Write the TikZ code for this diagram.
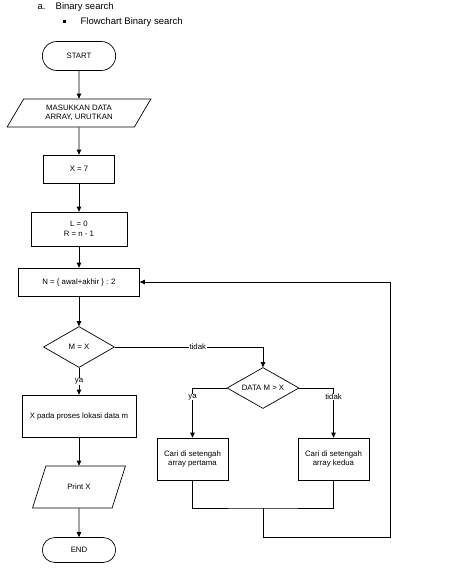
\documentclass[tikz,border=0pt]{standalone}
\usepackage{fontspec}
\setmainfont{Liberation Sans}
\usetikzlibrary{positioning,arrows.meta,shapes.geometric,shapes.misc}

\begin{document}
\begin{tikzpicture}[x=1pt,y=-1pt,node distance=60pt,on grid,line width=0.7pt,
    >={Triangle[length=5pt,width=4.5pt]}]
    \tikzstyle{every node}=[font=\fontsize{7.8}{9.5}\selectfont]
    \tikzstyle{terminal}=[draw, rounded rectangle, minimum width=80pt, minimum height=29pt]
    \tikzstyle{io}=[draw, trapezium, trapezium left angle=64, trapezium right angle=116,
        trapezium stretches=true, align=center]
    \tikzstyle{process}=[draw, rectangle, minimum height=28pt, align=center]
    \tikzstyle{decision}=[draw, diamond, aspect=1.75, inner sep=0pt, minimum width=72pt, minimum height=41pt]
    \tikzstyle{lbl}=[fill=white, inner sep=0.5pt]

    \useasboundingbox (0,0) rectangle (451,579);

    % header
    \node[right, font=\fontsize{9.5}{11}\selectfont] at (34,7)  {a.};
    \node[right, font=\fontsize{9.5}{11}\selectfont] at (52,7)  {Binary search};
    \fill (63,20) rectangle (66,23);
    \node[right, font=\fontsize{9.5}{11}\selectfont] at (77,22) {Flowchart Binary search};

    % main column
    \node[terminal]                                  (start)  at (79,56)              {START};
    \node[io, minimum width=144pt, minimum height=28pt] (input) [below = 57pt of start] {MASUKKAN DATA\\ARRAY, URUTKAN};
    \node[process, minimum width=71pt]               (xset)   [below = 56pt of input] {X = 7};
    \node[process, minimum width=96pt, minimum height=34pt] (lr) [below = 60pt of xset] {L = 0\\R = n - 1};
    \node[process, minimum width=121pt]              (nmid)   [below = 53pt of lr]    {N = \{ awal+akhir \} : 2};
    \node[decision, minimum width=71pt]              (mx)     [below = 65pt of nmid]  {M = X};
    \node[process, minimum width=114pt, minimum height=42pt] (found) [below = 69pt of mx] {X pada proses lokasi data m};
    \node[io, minimum width=93pt, minimum height=42pt] (print) [below = 71pt of found] {Print X};
    \node[terminal, minimum height=25pt] (stop) [below = 63pt of print] {END};

    % right branch
    \node[decision]                                  (datam)  [below right = 41pt and 184pt of mx] {DATA M > X};
    \node[process, minimum width=71pt, minimum height=42pt] (first)  [below left = 71pt and 70.5pt of datam]  {Cari di setengah\\array pertama};
    \node[process, minimum width=71pt, minimum height=42pt] (second) [below right = 71pt and 70.5pt of datam] {Cari di setengah\\array kedua};
    \coordinate[below = 120pt of datam] (join);
    \coordinate[below = 29pt of join]   (loopb);
    \coordinate[right = 127pt of loopb] (loopr);

    \draw[->] (start) -- (input);
    \draw[->] (input) -- (xset);
    \draw[->] (xset)  -- (lr);
    \draw[->] (lr)    -- (nmid);
    \draw[->] (nmid)  -- (mx);
    \draw[->] (mx)    -- node[lbl] {ya} (found);
    \draw[->] (found) -- (print);
    \draw[->] (print) -- (stop);

    \draw[->] (mx.east)    -| node[lbl, pos=0.28] {tidak} (datam.north);
    \draw[->] (datam.west) -| node[lbl, pos=0.59] {ya}    (first.north);
    \draw[->] (datam.east) -| node[lbl, pos=0.59] {tidak} (second.north);
    \draw (first.south) |- (join) -| (second.south);
    \draw[->] (join) -- (loopb) -- (loopr) |- (nmid.east);
\end{tikzpicture}
\end{document}
